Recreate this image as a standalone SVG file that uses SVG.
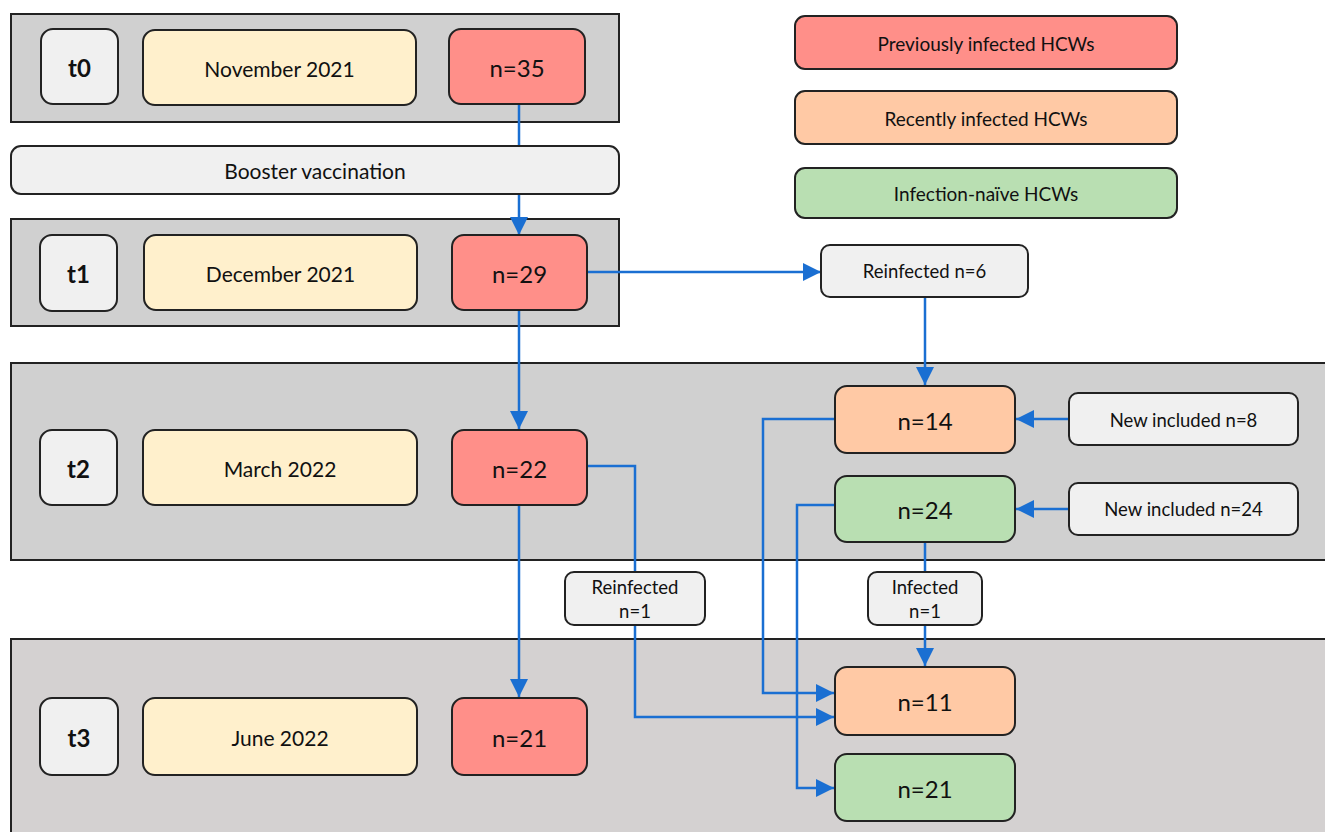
<svg xmlns="http://www.w3.org/2000/svg" width="1325" height="832" viewBox="0 0 1325 832">
<defs>
<marker id="ah" markerUnits="userSpaceOnUse" markerWidth="20" markerHeight="18" refX="18" refY="9" orient="auto">
<path d="M0,0 L18,9 L0,18 Z" fill="#1a6fd2"/>
</marker>
<style>
.band{fill:#d0d0d0;stroke:#222;stroke-width:2}
.band3{fill:#d4d1d1;stroke:#222;stroke-width:2}
.box{stroke:#222;stroke-width:2}
.lt{fill:#f0f0f0}
.yl{fill:#fff0cc}
.rd{fill:#ff8f89}
.or{fill:#ffc9a5}
.gr{fill:#b9dfb2}
text{font-family:Lato,"Open Sans","Liberation Sans",sans-serif;fill:#111;text-anchor:middle;dominant-baseline:central}
.tl{font-size:24px;font-weight:bold}
.dt{font-size:21px}
.nn{font-size:24px}
.lg{font-size:19px}
.sm{font-size:18.5px}
.cn{fill:none;stroke:#1a6fd2;stroke-width:2.5}
</style>
</defs>
<rect width="1325" height="832" fill="#fff"/>
<g id="bands">
<rect class="band" x="11" y="14" width="608" height="108"/>
<rect class="band" x="11" y="219" width="608" height="107"/>
<rect class="band" x="11" y="363" width="1320" height="197"/>
<rect class="band3" x="11" y="639" width="1320" height="200"/>
</g>
<g id="connectors">
<path class="cn" d="M519,104 V146"/>
<path class="cn" d="M519,194 V235" marker-end="url(#ah)"/>
<path class="cn" d="M587,272 H821" marker-end="url(#ah)"/>
<path class="cn" d="M925,297 V385" marker-end="url(#ah)"/>
<path class="cn" d="M519,310 V429" marker-end="url(#ah)"/>
<path class="cn" d="M519,505 V697" marker-end="url(#ah)"/>
<path class="cn" d="M1069,419 H1016" marker-end="url(#ah)"/>
<path class="cn" d="M1069,509 H1016" marker-end="url(#ah)"/>
<path class="cn" d="M587,466 H635 V717 H834" marker-end="url(#ah)"/>
<path class="cn" d="M835,419 H763 V693 H834" marker-end="url(#ah)"/>
<path class="cn" d="M835,505 H797 V788 H834" marker-end="url(#ah)"/>
<path class="cn" d="M925,542 V572"/>
<path class="cn" d="M925,625 V666" marker-end="url(#ah)"/>
</g>
<g id="t0"><rect class="box lt" x="41" y="29" width="77" height="75" rx="12"/><text class="tl" x="79.5" y="67">t0</text></g>
<g id="nov2021"><rect class="box yl" x="143" y="30" width="273" height="75" rx="12"/><text class="dt" x="279.5" y="68">November 2021</text></g>
<g id="n35"><rect class="box rd" x="449" y="29" width="136" height="75" rx="12"/><text class="nn" x="517" y="67">n=35</text></g>
<g id="booster"><rect class="box lt" x="11" y="146" width="608" height="48" rx="10"/><text class="dt" x="315" y="170">Booster vaccination</text></g>
<g id="t1"><rect class="box lt" x="40" y="235" width="77" height="76" rx="12"/><text class="tl" x="78.5" y="273">t1</text></g>
<g id="dec2021"><rect class="box yl" x="144" y="235" width="273" height="75" rx="12"/><text class="dt" x="280.5" y="273">December 2021</text></g>
<g id="n29"><rect class="box rd" x="452" y="235" width="135" height="75" rx="12"/><text class="nn" x="519.5" y="273">n=29</text></g>
<g id="reinf6"><rect class="box lt" x="821" y="245" width="207" height="52" rx="9"/><text class="sm" x="924.5" y="271">Reinfected n=6</text></g>
<g id="t2"><rect class="box lt" x="40" y="430" width="77" height="75" rx="12"/><text class="tl" x="78.5" y="468">t2</text></g>
<g id="mar2022"><rect class="box yl" x="143" y="430" width="274" height="75" rx="12"/><text class="dt" x="280" y="468">March 2022</text></g>
<g id="n22"><rect class="box rd" x="452" y="430" width="135" height="75" rx="12"/><text class="nn" x="519.5" y="468">n=22</text></g>
<g id="n14"><rect class="box or" x="835" y="386" width="180" height="67" rx="12"/><text class="nn" x="925" y="420">n=14</text></g>
<g id="n24"><rect class="box gr" x="835" y="476" width="180" height="66" rx="12"/><text class="nn" x="925" y="509">n=24</text></g>
<g id="new8"><rect class="box lt" x="1069" y="393" width="229" height="52" rx="9"/><text class="sm" x="1183.5" y="420">New included n=8</text></g>
<g id="new24"><rect class="box lt" x="1069" y="483" width="229" height="52" rx="9"/><text class="sm" x="1183.5" y="509">New included n=24</text></g>
<g id="reinf1"><rect class="box lt" x="565" y="572" width="140" height="53" rx="9"/><text class="sm" x="635" y="587">Reinfected</text><text class="sm" x="635" y="611">n=1</text></g>
<g id="inf1"><rect class="box lt" x="868" y="572" width="114" height="53" rx="9"/><text class="sm" x="925" y="587">Infected</text><text class="sm" x="925" y="611">n=1</text></g>
<g id="t3"><rect class="box lt" x="40" y="698" width="78" height="77" rx="12"/><text class="tl" x="79" y="737">t3</text></g>
<g id="jun2022"><rect class="box yl" x="143" y="698" width="274" height="77" rx="12"/><text class="dt" x="280" y="737">June 2022</text></g>
<g id="n21r"><rect class="box rd" x="452" y="698" width="135" height="77" rx="12"/><text class="nn" x="519.5" y="737">n=21</text></g>
<g id="n11"><rect class="box or" x="835" y="667" width="180" height="68" rx="12"/><text class="nn" x="925" y="701">n=11</text></g>
<g id="n21g"><rect class="box gr" x="835" y="754" width="180" height="67" rx="12"/><text class="nn" x="925" y="788">n=21</text></g>
<g id="legend-prev"><rect class="box rd" x="795" y="16" width="382" height="53" rx="10"/><text class="lg" x="986" y="43">Previously infected HCWs</text></g>
<g id="legend-recent"><rect class="box or" x="795" y="91" width="382" height="53" rx="10"/><text class="lg" x="986" y="118">Recently infected HCWs</text></g>
<g id="legend-naive"><rect class="box gr" x="795" y="168" width="382" height="50" rx="10"/><text class="lg" x="986" y="193">Infection-naïve HCWs</text></g>
</svg>
